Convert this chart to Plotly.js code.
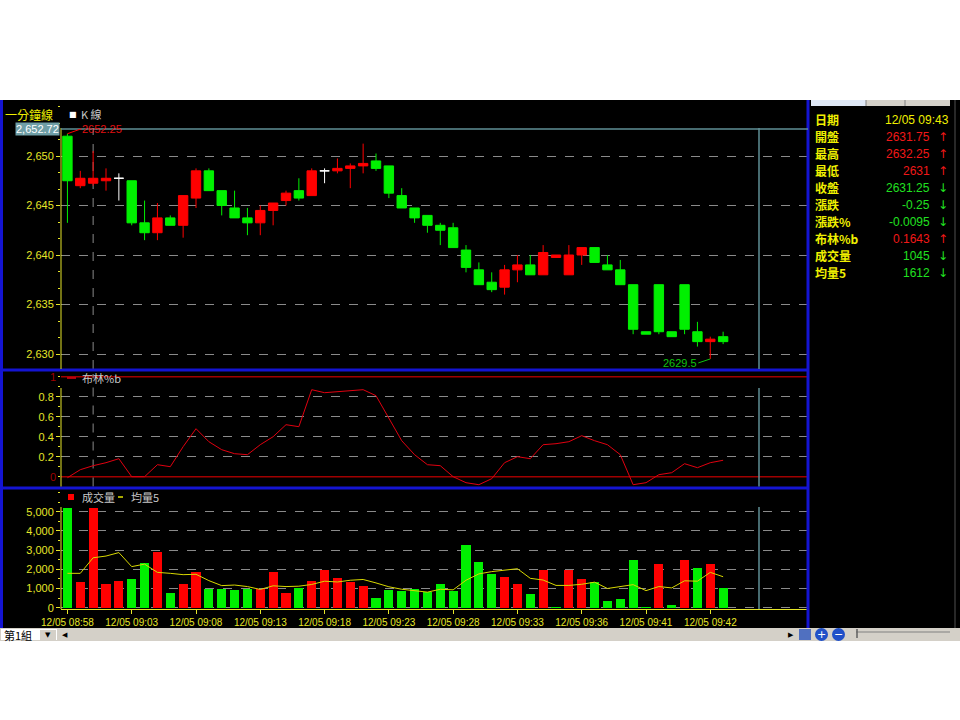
<!DOCTYPE html>
<html><head><meta charset="utf-8">
<script src="https://cdn.plot.ly/plotly-3.0.1.min.js"></script>
<style>html,body{margin:0;padding:0;background:#fff}#chart{width:960px;height:720px}</style>
</head><body><div id="chart"></div>
<script>
// ---------------- data ----------------
const tickLabels = ["12/05 08:58","12/05 09:03","12/05 09:08","12/05 09:13","12/05 09:18","12/05 09:23","12/05 09:28","12/05 09:33","12/05 09:36","12/05 09:41","12/05 09:42"];
const open  = [2652.0,2647.0,2647.25,2647.5,2647.75,2647.5,2643.25,2642.25,2643.75,2643.0,
               2645.75,2648.5,2646.5,2644.75,2643.75,2643.25,2644.5,2645.5,2646.5,2646.0,
               2648.5,2648.5,2648.75,2649.0,2649.5,2649.0,2646.0,2644.75,2644.0,2643.0,
               2642.75,2640.5,2638.5,2637.25,2636.75,2638.5,2639.0,2638.0,2639.75,2638.0,
               2640.0,2640.75,2639.0,2638.5,2637.0,2632.25,2637.0,2632.25,2637.0,2632.25,
               2631.25,2631.75];
const high  = [2652.25,2648.5,2650.5,2648.75,2648.25,2647.5,2645.5,2645.25,2644.0,2646.0,
               2648.75,2648.75,2646.5,2646.5,2644.75,2645.0,2645.25,2646.5,2647.75,2648.75,
               2648.75,2649.75,2649.25,2651.25,2650.25,2649.0,2646.75,2644.75,2644.0,2643.25,
               2643.25,2641.0,2639.25,2638.25,2639.0,2640.0,2640.0,2641.0,2640.0,2641.0,
               2640.75,2640.75,2640.0,2639.5,2637.0,2632.25,2637.0,2632.25,2637.0,2633.25,
               2631.75,2632.25];
const low   = [2643.25,2646.75,2647.0,2646.5,2645.5,2643.0,2641.5,2641.5,2643.0,2641.75,
               2644.75,2646.5,2644.0,2643.75,2642.0,2642.0,2643.0,2645.0,2645.5,2646.0,
               2647.25,2648.25,2646.75,2648.25,2648.5,2645.75,2644.75,2643.25,2642.25,2641.0,
               2640.75,2638.25,2637.0,2636.25,2636.0,2637.25,2638.0,2638.0,2639.75,2638.0,
               2639.0,2639.25,2638.5,2637.0,2632.0,2632.0,2632.0,2631.75,2632.0,2630.75,
               2629.5,2631.0];
const close = [2647.5,2647.75,2647.75,2647.75,2647.75,2643.25,2642.25,2643.75,2643.0,2646.0,
               2648.5,2646.5,2645.0,2643.75,2643.25,2644.5,2645.25,2646.25,2645.75,2648.5,
               2648.5,2648.75,2649.0,2649.25,2648.75,2646.25,2644.75,2643.75,2643.0,2642.5,
               2640.75,2638.75,2637.0,2636.5,2638.5,2639.0,2638.0,2640.25,2640.0,2640.0,
               2640.75,2639.25,2638.5,2637.0,2632.5,2632.0,2632.25,2631.75,2632.5,2631.25,
               2631.5,2631.25];
const volume = [5180,1350,5200,1230,1400,1500,2340,2880,780,1220,
                1880,960,960,910,990,960,1840,780,1040,1390,
                1960,1530,1320,1150,520,920,870,970,800,1230,
                870,3270,2360,1740,1600,1230,710,1960,30,1960,
                1500,1350,350,450,2480,30,2280,140,2480,2080,
                2280,1045];
const volMA5 = [1790,1790,2600,2690,2870,2140,2270,1840,1790,1720,
                1740,1410,1150,1180,1100,950,1140,1100,1120,1210,
                1380,1340,1430,1470,1290,1090,960,900,810,960,
                930,1430,1760,1880,1940,2030,1530,1440,1160,1160,
                1220,1330,1000,1110,1200,890,1100,1030,1400,1380,
                1840,1612];
const bollPctB = [-0.01,0.07,0.11,0.14,0.18,0.0,0.0,0.12,0.10,0.30,
                  0.48,0.35,0.27,0.23,0.22,0.32,0.40,0.52,0.50,0.87,
                  0.84,0.85,0.86,0.87,0.81,0.58,0.36,0.22,0.12,0.11,
                  0.0,-0.06,-0.08,-0.02,0.14,0.20,0.18,0.32,0.33,0.35,
                  0.41,0.36,0.32,0.22,-0.08,-0.06,0.02,0.04,0.13,0.09,
                  0.14,0.1643];
const priceTopLabel = 2652.72;
const infoLabels = ["日期","開盤","最高","最低","收盤","漲跌","漲跌%","布林%b","成交量","均量5"];
const infoValues = ["12/05 09:43","2631.75","2632.25","2631","2631.25","-0.25","-0.0095","0.1643","1045","1612"];
const infoDir    = [0,1,1,1,-1,-1,-1,1,-1,-1];

// ---------------- styling ----------------
const W=960,H=720;
const px=x=>x/W, py=y=>1-y/H;
const YEL='#e6e628', GRID='#8a8a8a', TEAL='#5f8f96', BLUE='#1414d2', RED='#ff0000', GRN='#00f000', DRED='#a00000';
const SANS='Liberation Sans, Arial, sans-serif';
const TICKF={family:SANS,size:11,color:YEL};
const CJK='Noto Sans CJK TC, Noto Sans CJK SC, sans-serif';

const n=close.length, idx=close.map((_,i)=>i);
const kind=close.map((c,i)=>c>open[i]?'up':(c<open[i]?'down':'flat'));
function candle(k,color){
  const ii=idx.filter(i=>kind[i]===k);
  return {type:'candlestick',x:ii,open:ii.map(i=>open[i]),high:ii.map(i=>high[i]),low:ii.map(i=>low[i]),close:ii.map(i=>close[i]),
    xaxis:'x',yaxis:'y',whiskerwidth:0,hoverinfo:'skip',showlegend:false,
    increasing:{line:{color:color,width:1},fillcolor:color},decreasing:{line:{color:color,width:1},fillcolor:color}};
}
const volColor=close.map((c,i)=>(i===0?c>=open[0]:c>=close[i-1])?RED:GRN);

const traces=[
  candle('up',RED),candle('down',GRN),candle('flat','#ffffff'),
  {type:'scatter',mode:'lines',x:idx,y:bollPctB,xaxis:'x',yaxis:'y2',line:{color:'#e00010',width:1},hoverinfo:'skip',showlegend:false},
  {type:'bar',x:idx,y:volume,xaxis:'x',yaxis:'y3',width:0.72,marker:{color:volColor,line:{width:0}},hoverinfo:'skip',showlegend:false},
  {type:'scatter',mode:'lines',x:idx,y:volMA5,xaxis:'x',yaxis:'y3',line:{color:'#d8d800',width:1},hoverinfo:'skip',showlegend:false}
];

const XL=61, XR=808;
const yBase={anchor:'x',showline:false,zeroline:false,ticks:'outside',ticklen:4,tickcolor:YEL,tickfont:TICKF,
  showgrid:true,gridcolor:GRID,griddash:'dash',gridwidth:1,fixedrange:true};
const layout={
  width:W,height:H,margin:{l:0,r:0,t:0,b:0},paper_bgcolor:'#ffffff',plot_bgcolor:'#000000',
  showlegend:false,boxgap:0.27,boxgroupgap:0,bargap:0,
  xaxis:{domain:[px(XL),px(XR)],range:[-0.5,57.6],anchor:'y3',showgrid:false,zeroline:false,
    showline:true,linecolor:YEL,linewidth:1,ticks:'outside',ticklen:4,tickcolor:YEL,
    tickvals:tickLabels.map((_,k)=>5*k),ticktext:tickLabels,
    tickfont:{family:SANS,size:10,color:YEL},
    rangeslider:{visible:false},fixedrange:true},
  yaxis:Object.assign({},yBase,{domain:[py(369),py(101)],range:[2628.485,2655.556],
    tickvals:[2630,2635,2640,2645,2650],tickformat:',d',
    minor:{dtick:5/3,ticks:'outside',ticklen:2,tickcolor:YEL,showgrid:false}}),
  yaxis2:Object.assign({},yBase,{domain:[py(486.5),py(372)],range:[-0.098,1.047],
    tickvals:[0.2,0.4,0.6,0.8],ticktext:['0.2','0.4','0.6','0.8'],
    minor:{dtick:0.1,ticks:'outside',ticklen:2,tickcolor:YEL,showgrid:false}}),
  yaxis3:Object.assign({},yBase,{domain:[py(609),py(490)],range:[-68,6130],
    tickvals:[0,1000,2000,3000,4000,5000],tickformat:',d',
    minor:{dtick:500,ticks:'outside',ticklen:2,tickcolor:YEL,showgrid:false}}),
  shapes:[],annotations:[]
};
const S=layout.shapes, A=layout.annotations;
function prect(x0,y0,x1,y1,fill,layer){S.push({type:'rect',xref:'paper',yref:'paper',x0:px(x0),x1:px(x1),y0:py(y1),y1:py(y0),fillcolor:fill,line:{width:0},layer:layer||'below'});}
function pline(x0,y0,x1,y1,color,w,dash){S.push({type:'line',xref:'paper',yref:'paper',x0:px(x0),x1:px(x1),y0:py(y0),y1:py(y1),line:{color:color,width:w||1,dash:dash||'solid'},layer:'above'});}
function txt(x,y,t,o){A.push(Object.assign({xref:'paper',yref:'paper',x:px(x),y:py(y),text:t,showarrow:false,xanchor:'left',yanchor:'middle',
  borderpad:0,font:{family:SANS,size:11,color:'#ffffff'}},o||{}));}

// backgrounds and borders
prect(0,100,960,628,'#000000');
prect(0,100,3,628,BLUE,'above');
prect(0,368.5,808,371.5,BLUE,'above');
prect(0,486.5,808,489.5,BLUE,'above');
prect(806.5,100,809.5,628,BLUE,'above');
pline(955,100,955,628,'#505050',1);
// axis lines and current-time marker
[[128,369],[388,486.5],[507,609]].forEach(s=>{pline(XL,s[0],XL,s[1],YEL,1);pline(759,s[0],759,s[1],TEAL,1.5);});
// top-of-range line in price panel
S.push({type:'line',xref:'paper',yref:'y',x0:px(XL),x1:px(XR),y0:priceTopLabel,y1:priceTopLabel,line:{color:TEAL,width:1.5},layer:'above'});
// %b 0 and 1 reference lines
[0,1].forEach(v=>S.push({type:'line',xref:'paper',yref:'y2',x0:px(XL),x1:px(XR),y0:v,y1:v,line:{color:DRED,width:1.5},layer:'below'}));
// dashed vertical at cursor
S.push({type:'line',xref:'x',yref:'paper',x0:2,x1:2,y0:py(369),y1:py(128),line:{color:GRID,width:1,dash:'dash'},layer:'below'});
S.push({type:'line',xref:'x',yref:'paper',x0:2,x1:2,y0:py(486.5),y1:py(374),line:{color:GRID,width:1,dash:'dash'},layer:'below'});

// price panel texts
txt(4,114,'一分鐘線',{font:{family:CJK,size:12,color:'#f0f000'}});
txt(68,114,'■',{font:{family:'DejaVu Sans',size:8,color:'#ffffff'}});
txt(80,114,'K 線',{font:{family:CJK,size:11,color:'#c8c8c8'}});
A.push({xref:'paper',yref:'y',x:px(60),y:priceTopLabel,text:'2,652.72',showarrow:false,xanchor:'right',yanchor:'middle',
  bgcolor:'#6f9ea6',borderpad:0,font:{family:SANS,size:11,color:'#ffffff'}});
const hiIdx=high.indexOf(Math.max(...high)), loIdx=low.indexOf(Math.min(...low));
A.push({xref:'x',yref:'y',x:hiIdx,y:high[hiIdx],text:String(high[hiIdx]),showarrow:true,arrowhead:0,arrowwidth:1,arrowcolor:RED,
  ax:14,ay:-5,xanchor:'left',yanchor:'middle',standoff:0,borderpad:0,font:{family:SANS,size:11,color:'#e01010'}});
A.push({xref:'x',yref:'y',x:loIdx,y:low[loIdx],text:String(low[loIdx]),showarrow:true,arrowhead:0,arrowwidth:1,arrowcolor:'#10c010',
  ax:-12,ay:4,xanchor:'right',yanchor:'middle',standoff:0,borderpad:0,font:{family:SANS,size:11,color:'#10c010'}});
// %b panel
pline(67,378,76,378,'#e00010',1.5);
txt(81,378,'布林%b',{font:{family:CJK,size:11,color:'#c8c8c8'}});
A.push({xref:'paper',yref:'y2',x:px(57),y:1,text:'1',showarrow:false,xanchor:'right',yanchor:'middle',borderpad:0,font:{family:SANS,size:11,color:DRED}});
A.push({xref:'paper',yref:'y2',x:px(57),y:0,text:'0',showarrow:false,xanchor:'right',yanchor:'middle',borderpad:0,font:{family:SANS,size:11,color:DRED}});
// volume panel legend
prect(68,494,74,500,RED,'above');
txt(81,497,'成交量',{font:{family:CJK,size:11,color:'#c8c8c8'}});
pline(118,497,123,497,'#e0e000',1.5);
txt(130,497,'均量5',{font:{family:CJK,size:11,color:'#c8c8c8'}});

// right info panel
infoLabels.forEach((lab,k)=>{
  const y=120+k*16.95;
  txt(814,y,'<b>'+lab+'</b>',{font:{family:CJK,size:12,color:'#f0f000'}});
  const col=k===0?'#f0f000':(infoDir[k]>0?'#f01818':'#20e020');
  txt(k===0?950:931,y,infoValues[k],{xanchor:'right',font:{family:SANS,size:12,color:col}});
  if(infoDir[k]!==0) txt(943,y,infoDir[k]>0?'↑':'↓',{xanchor:'center',font:{family:'DejaVu Sans',size:12,color:col}});
});
// tabs (cut off at top)
prect(811,100,866,106,'#dfe8f6','above'); prect(866,100,905,106,'#d4d0c8','above'); prect(905,100,950,106,'#d4d0c8','above');
pline(866,100,866,106,'#808080',1); pline(905,100,905,106,'#808080',1);

// bottom status bar
prect(0,628,960,641,'#d4d0c8','above');
prect(1,629,57,640,'#ffffff','above');
txt(3,635,'第1組',{font:{family:CJK,size:11,color:'#000000'}});
prect(40,630,56,640,'#d4d0c8','above');
txt(48,635,'▼',{xanchor:'center',font:{family:'DejaVu Sans',size:7,color:'#000000'}});
prect(58,629,72,640,'#d4d0c8','above');
txt(65,635,'◀',{xanchor:'center',font:{family:'DejaVu Sans',size:7,color:'#000000'}});
txt(791,635,'▶',{xanchor:'center',font:{family:'DejaVu Sans',size:7,color:'#000000'}});
prect(799,629,811,640,'#5070c0','above');
S.push({type:'circle',xref:'paper',yref:'paper',x0:px(815),x1:px(828),y0:py(641),y1:py(628),fillcolor:'#2050c8',line:{width:0},layer:'above'});
S.push({type:'circle',xref:'paper',yref:'paper',x0:px(832),x1:px(845),y0:py(641),y1:py(628),fillcolor:'#2050c8',line:{width:0},layer:'above'});
txt(821.5,634.5,'+',{xanchor:'center',font:{family:'DejaVu Sans',size:11,color:'#ffffff'}});
txt(838.5,634.5,'−',{xanchor:'center',font:{family:'DejaVu Sans',size:11,color:'#ffffff'}});
pline(856,632,950,632,'#808080',1);
pline(857,629,857,638,'#606060',1.5);

Plotly.newPlot('chart',traces,layout,{staticPlot:true,displayModeBar:false});
</script></body></html>
